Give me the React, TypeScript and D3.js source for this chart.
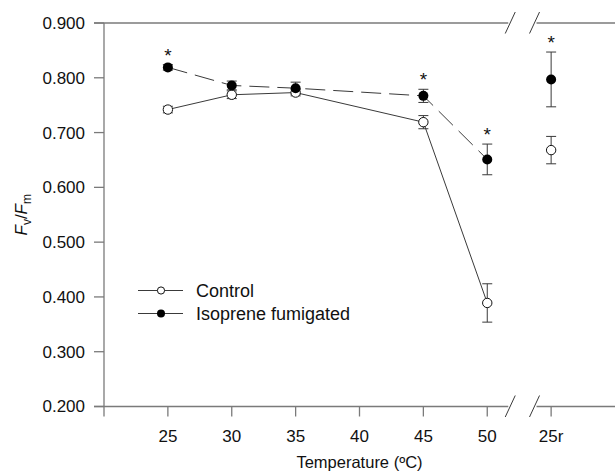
import React from 'react'
import { scaleLinear, line, range, format } from 'd3'

// x positions: 25r (recovery) is placed after the axis break, at 55
const tempLabels = ['25', '30', '35', '40', '45', '50', '25r']
const tempTicks = [25, 30, 35, 40, 45, 50, 55]

const pointX = [25, 30, 35, 45, 50, 55]
const control = [0.742, 0.769, 0.773, 0.719, 0.389, 0.668]
const controlErr = [0.006, 0.007, 0.006, 0.012, 0.035, 0.025]
const isoprene = [0.819, 0.786, 0.781, 0.767, 0.651, 0.797]
const isopreneErr = [0.005, 0.008, 0.011, 0.012, 0.028, 0.05]
const significant = [true, false, false, true, true, true]

const yTicks = range(0.2, 0.9001, 0.1)
const breakAt = [51.8, 53.7]

const FONT = 'Liberation Sans, Arial, Helvetica, sans-serif'

const App = () => {
  const width = 615
  const height = 476
  const margin = { top: 23, right: 0, bottom: 69.5, left: 104 }

  const innerWidth = width - margin.left - margin.right
  const innerHeight = height - margin.top - margin.bottom

  const xScale = scaleLinear().domain([20, 60]).range([0, innerWidth])
  const yScale = scaleLinear().domain([0.2, 0.9]).range([innerHeight, 0])

  const axisColor = '#7a7a7a'
  const dataColor = '#3a3a3a'

  // lines stop at 50 °C; the 25r point stands alone after the break
  const n = 5
  const lineGen = line<number>()
    .x((d, i) => xScale(pointX[i]))
    .y(d => yScale(d))
  const controlPath = lineGen(control.slice(0, n))
  const isoPath = lineGen(isoprene.slice(0, n))

  const b0 = xScale(breakAt[0])
  const b1 = xScale(breakAt[1])
  const hLine = (y: number) => (
    <g>
      <line x1={-10} x2={b0 - 2} y1={y} y2={y} stroke={axisColor} strokeWidth={1.3} />
      <line x1={b1 + 2} x2={innerWidth} y1={y} y2={y} stroke={axisColor} strokeWidth={1.3} />
      {[b0, b1].map((bx, i) => (
        <line key={i} x1={bx - 5} y1={y + 10.5} x2={bx + 5} y2={y - 11} stroke={dataColor} strokeWidth={1} />
      ))}
    </g>
  )

  const errBar = (x: number, v: number, e: number, key: string) => (
    <g key={key} stroke={dataColor} strokeWidth={1}>
      <line x1={xScale(x)} x2={xScale(x)} y1={yScale(v + e)} y2={yScale(v - e)} />
      <line x1={xScale(x) - 5} x2={xScale(x) + 5} y1={yScale(v + e)} y2={yScale(v + e)} />
      <line x1={xScale(x) - 5} x2={xScale(x) + 5} y1={yScale(v - e)} y2={yScale(v - e)} />
    </g>
  )

  return (
    <svg width={width} height={height} style={{ position: 'absolute', left: 0, top: 0, background: 'white' }}>
      <g transform={`translate(${margin.left},${margin.top})`} fontFamily={FONT}>
        {/* frame: top line, bottom axis, left axis */}
        {hLine(0)}
        {hLine(innerHeight)}
        <line x1={0} x2={0} y1={0} y2={innerHeight + 10} stroke={axisColor} strokeWidth={1.3} />

        {yTicks.map(t => (
          <g key={t} transform={`translate(0,${yScale(t)})`}>
            <line x1={-10} x2={0} stroke={axisColor} strokeWidth={1.3} />
            <text x={-19} dy='0.35em' textAnchor='end' fontSize={17} fill='#111'>{format('.3f')(t)}</text>
          </g>
        ))}

        {tempTicks.map((t, i) => (
          <g key={t} transform={`translate(${xScale(t)},${innerHeight})`}>
            <line y1={0} y2={10} stroke={axisColor} strokeWidth={1.3} />
            <text y={35} textAnchor='middle' fontSize={17} fill='#111'>{tempLabels[i]}</text>
          </g>
        ))}

        <text x={innerWidth / 2} y={innerHeight + 61} textAnchor='middle' fontSize={16.5} fill='#111'>
          Temperature (ºC)
        </text>
        <text transform={`translate(${27 - margin.left},${innerHeight / 2}) rotate(-90)`} textAnchor='middle' fontSize={17} fill='#111'>
          <tspan fontStyle='italic'>F</tspan>
          <tspan fontSize={12} dy={4}>v</tspan>
          <tspan dy={-4}>/</tspan>
          <tspan fontStyle='italic'>F</tspan>
          <tspan fontSize={12} dy={4}>m</tspan>
        </text>

        {/* series lines */}
        <path d={controlPath ?? ''} fill='none' stroke={dataColor} strokeWidth={1} />
        <path d={isoPath ?? ''} fill='none' stroke={dataColor} strokeWidth={1} strokeDasharray='20,8' />

        {pointX.map((x, i) => errBar(x, control[i], controlErr[i], 'ce' + i))}
        {pointX.map((x, i) => errBar(x, isoprene[i], isopreneErr[i], 'ie' + i))}

        {pointX.map((x, i) => (
          <circle key={'c' + i} cx={xScale(x)} cy={yScale(control[i])} r={4.7} fill='white' stroke='#111' strokeWidth={1} />
        ))}
        {pointX.map((x, i) => (
          <circle key={'f' + i} cx={xScale(x)} cy={yScale(isoprene[i])} r={5} fill='#000' />
        ))}

        {pointX.map((x, i) =>
          significant[i] ? (
            <text key={'s' + i} x={xScale(x)} y={yScale(isoprene[i] + isopreneErr[i]) - 3} textAnchor='middle' fontSize={19} fill='#111'>*</text>
          ) : null
        )}

        {/* legend */}
        <g transform={`translate(${138 - margin.left},${290.5 - margin.top})`}>
          <line x1={0} x2={45} y1={0} y2={0} stroke={dataColor} strokeWidth={1} />
          <circle cx={23} cy={0} r={3.6} fill='white' stroke='#111' strokeWidth={1} />
          <text x={58} dy='0.35em' fontSize={18} fill='#111'>Control</text>
          <line x1={0} x2={45} y1={23} y2={23} stroke={dataColor} strokeWidth={1} />
          <circle cx={23} cy={23} r={4} fill='#000' />
          <text x={58} y={23} dy='0.35em' fontSize={18} fill='#111'>Isoprene fumigated</text>
        </g>
      </g>
    </svg>
  )
}

export default App
